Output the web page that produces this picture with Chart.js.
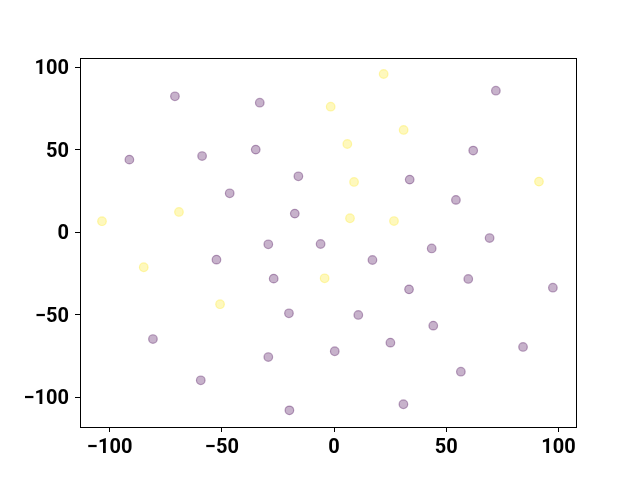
<!DOCTYPE html>
<html>
<head>
<meta charset="utf-8">
<script src="https://cdn.jsdelivr.net/npm/chart.js@4/dist/chart.umd.min.js"></script>
<style>
  html, body { margin: 0; padding: 0; background: #ffffff; }
  canvas { display: block; }
</style>
</head>
<body>
<canvas id="chart" width="640" height="480"></canvas>
<script>
// Purple group (class 0)
const purpleX = [-70.9, -33.1, 72.1, -91.2, -58.8, -34.9, 62.0, -15.9, 33.7, -46.5, 54.3, -17.5,
    -29.3, -6.0, 69.3, 43.5, -52.4, 17.1, -26.9, 59.8, 33.4, 97.5, -20.1, 10.8, 44.2,
    -80.7, 25.1, 0.3, 84.2, -29.3, 56.5, -59.4, -19.9, 30.9];
const purpleY = [82.4, 78.5, 85.8, 44.0, 46.2, 50.1, 49.5, 33.9, 31.9, 23.6, 19.6, 11.3,
    -7.3, -7.1, -3.5, -9.8, -16.6, -16.8, -28.1, -28.3, -34.6, -33.6, -49.1, -50.1, -56.6,
    -64.7, -66.9, -72.1, -69.5, -75.6, -84.5, -89.7, -107.9, -104.2];

// Yellow group (class 1)
const yellowX = [22.1, -1.5, 31.0, 5.9, 8.9, 91.3, -103.4, -69.1, 7.1, 26.7, -84.8, -4.2, -50.8];
const yellowY = [95.9, 76.1, 62.0, 53.5, 30.5, 30.7, 6.7, 12.3, 8.5, 6.8, -21.2, -27.9, -43.6];

const tickValues = [-100, -50, 0, 50, 100];

const toPoints = (xs, ys) => xs.map((x, i) => ({ x: x, y: ys[i] }));

// draw the full box around the plot, like matplotlib's spines
const frame = {
    id: 'frame',
    afterDraw(chart) {
        const a = chart.chartArea;
        const ctx = chart.ctx;
        ctx.save();
        ctx.strokeStyle = '#000';
        ctx.lineWidth = 1;
        ctx.strokeRect(Math.round(a.left) + 0.5, Math.round(a.top) + 0.5,
            Math.round(a.right - a.left), Math.round(a.bottom - a.top));
        ctx.restore();
    }
};

const tickFont = { family: 'Roboto', size: 20, weight: 'bold' };
const fmt = (v) => (v < 0 ? '\u2212' + Math.abs(v) : String(v));

new Chart(document.getElementById('chart').getContext('2d'), {
    type: 'scatter',
    data: {
        datasets: [
            {
                data: toPoints(purpleX, purpleY),
                backgroundColor: 'rgba(68, 1, 84, 0.3)',
                borderColor: 'rgba(68, 1, 84, 0.35)',
                borderWidth: 1.2,
                pointRadius: 4.3
            },
            {
                data: toPoints(yellowX, yellowY),
                backgroundColor: 'rgba(253, 231, 37, 0.3)',
                borderColor: 'rgba(253, 231, 37, 0.35)',
                borderWidth: 1.2,
                pointRadius: 4.3
            }
        ]
    },
    options: {
        responsive: false,
        animation: false,
        layout: { padding: { left: 0, top: 58, right: 64, bottom: 0 } },
        plugins: { legend: { display: false }, tooltip: { enabled: false } },
        scales: {
            x: {
                type: 'linear',
                min: -113.2,
                max: 107.8,
                afterFit: (s) => { s.height = 53; },
                afterBuildTicks: (s) => { s.ticks = tickValues.map(v => ({ value: v })); },
                border: { display: true, color: '#000', width: 1 },
                grid: { drawOnChartArea: false, drawTicks: true, tickLength: 5, color: '#000' },
                ticks: { color: '#000', font: tickFont, padding: 4, maxRotation: 0, callback: fmt }
            },
            y: {
                type: 'linear',
                min: -118.0,
                max: 105.6,
                afterFit: (s) => { s.width = 80; },
                afterBuildTicks: (s) => { s.ticks = tickValues.map(v => ({ value: v })); },
                border: { display: true, color: '#000', width: 1 },
                grid: { drawOnChartArea: false, drawTicks: true, tickLength: 5, color: '#000' },
                ticks: { color: '#000', font: tickFont, padding: 6, labelOffset: 2, callback: fmt }
            }
        }
    },
    plugins: [frame]
});
</script>
</body>
</html>
